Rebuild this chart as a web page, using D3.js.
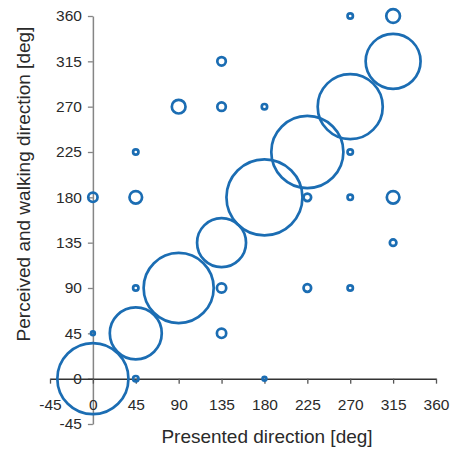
<!DOCTYPE html>
<html>
<head>
<meta charset="utf-8">
<script src="https://cdn.jsdelivr.net/npm/d3@7"></script>
<style>
  body { margin: 0; background: #fff; }
  text { font-family: "Liberation Sans", Arial, sans-serif; }
</style>
</head>
<body>
<div id="chart"></div>
<script>
// presented direction, perceived/walking direction, count (bubble size)
const presented = [0, 45, 90, 135, 180, 225, 270, 315,
  0, 0, 45, 45, 45, 45, 90, 135, 135, 135, 135, 180, 180, 225, 225, 270, 270, 270, 270, 315, 315, 315];
const perceived = [0, 45, 90, 135, 180, 225, 270, 315,
  45, 180, 0, 90, 180, 225, 270, 45, 90, 270, 315, 0, 270, 90, 180, 90, 180, 225, 360, 135, 180, 360];
const counts = [350, 187, 340, 166, 400, 360, 293, 209,
  1, 6, 2, 2, 11, 2, 13, 6, 6, 5, 5, 1, 2, 4, 4, 2, 2, 2, 2, 3, 11, 13];
const tickVals = [-45, 0, 45, 90, 135, 180, 225, 270, 315, 360];

const width = 455, height = 449;
const blue = "#1b6db3";

const svg = d3.select("#chart").append("svg")
  .attr("width", width)
  .attr("height", height);

const x = d3.scaleLinear().domain([-45, 360]).range([50, 436]);
const y = d3.scaleLinear().domain([-45, 360]).range([424, 16]);
const r = d3.scaleSqrt().domain([0, 400]).range([0, 38]);

// y axis (through x = 0)
const yAxis = svg.append("g")
  .attr("transform", `translate(${x(0)},0)`)
  .call(d3.axisLeft(y).tickValues(tickVals).tickFormat(d => String(d))
    .tickSize(5).tickSizeOuter(0).tickPadding(6));
yAxis.select(".domain").attr("stroke", "#858585").attr("stroke-width", 1.5);
yAxis.selectAll(".tick line").attr("stroke", "#858585").attr("stroke-width", 1.3);
yAxis.selectAll(".tick text").attr("font-size", 15.5).attr("fill", "#2a2a2a");

// x axis (through y = 0)
const xAxis = svg.append("g")
  .attr("transform", `translate(0,${y(0)})`)
  .call(d3.axisBottom(x).tickValues(tickVals).tickFormat(d => String(d))
    .tickSize(5).tickSizeOuter(0).tickPadding(15));
xAxis.select(".domain").attr("stroke", "#333").attr("stroke-width", 1.5);
xAxis.selectAll(".tick line").attr("stroke", "#555").attr("stroke-width", 1.3);
xAxis.selectAll(".tick text").attr("font-size", 15.5).attr("fill", "#2a2a2a");

const data = presented.map((p, i) => ({ px: p, py: perceived[i], n: counts[i] }));

svg.append("g")
  .selectAll("circle")
  .data(data.sort((a, b) => b.n - a.n))
  .enter()
  .append("circle")
  .attr("cx", d => x(d.px))
  .attr("cy", d => y(d.py))
  .attr("r", d => r(d.n))
  .attr("fill", "none")
  .attr("stroke", blue)
  .attr("stroke-width", 2.7);

svg.append("text")
  .attr("x", 267)
  .attr("y", 443)
  .attr("text-anchor", "middle")
  .attr("font-size", 19)
  .attr("fill", "#2a2a2a")
  .text("Presented direction [deg]");

svg.append("text")
  .attr("transform", "translate(30,184) rotate(-90)")
  .attr("text-anchor", "middle")
  .attr("font-size", 19)
  .attr("fill", "#2a2a2a")
  .text("Perceived and walking direction [deg]");
</script>
</body>
</html>
